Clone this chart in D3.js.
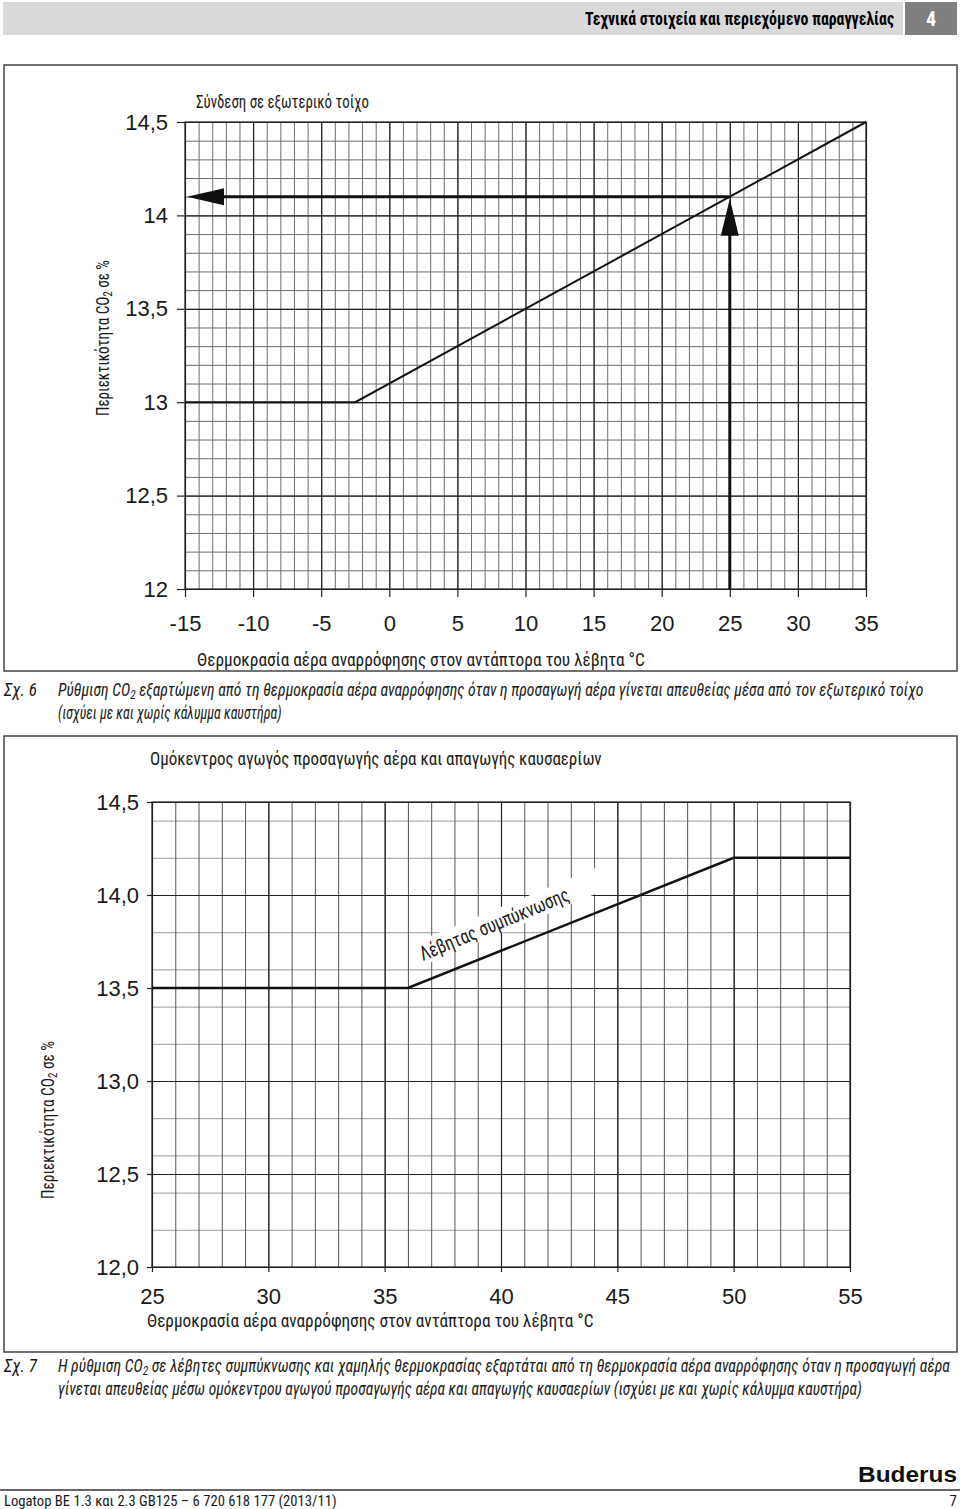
<!DOCTYPE html>
<html><head><meta charset="utf-8">
<script src="https://cdn.jsdelivr.net/npm/d3@7"></script>
<style>
html,body{margin:0;padding:0;background:#fff;}
svg{display:block;}
</style></head>
<body>
<script>
// ---------- data ----------
const xTicks1 = [-15,-10,-5,0,5,10,15,20,25,30,35];
const yTicks1 = [12,12.5,13,13.5,14,14.5];
const yLabels1 = ["12","12,5","13","13,5","14","14,5"];
const curve1Temp = [-15,-2.5,35];
const curve1CO2 = [13,13,14.5];
const readTemp1 = 25;
const readCO2_1 = 14.1;

const xTicks2 = [25,30,35,40,45,50,55];
const yTicks2 = [12,12.5,13,13.5,14,14.5];
const yLabels2 = ["12,0","12,5","13,0","13,5","14,0","14,5"];
const curve2Temp = [25,36,50,55];
const curve2CO2 = [13.5,13.5,14.2,14.2];
const curve2Label = "Λέβητας συμπύκνωσης";

const NARROW = "'Liberation Sans Narrow','Roboto Condensed','DejaVu Sans Condensed','Liberation Sans',sans-serif";
const SANS = "'Liberation Sans',Arial,sans-serif";

const svg = d3.select("body").append("svg").attr("width",960).attr("height",1509);

// text placed at (x,y); optional rotation; width forced to opt.len via a horizontal scale
function txt(g, x, y, s, opt={}) {
  const t = g.append("text").attr("x",0).attr("y",0)
    .attr("font-family", opt.family||NARROW)
    .attr("font-size", opt.size||16)
    .attr("fill", opt.fill||"#1a1a1a");
  if (opt.weight) t.attr("font-weight", opt.weight);
  if (opt.italic) t.attr("font-style","italic");
  if (opt.anchor) t.attr("text-anchor", opt.anchor);
  if (Array.isArray(s)) {
    s.forEach(p => {
      const ts = t.append("tspan").text(p.t);
      if (p.sub) ts.attr("font-size", (opt.size||16)*0.72).attr("dy", 3);
      if (p.back) ts.attr("dy", -3);
    });
  } else t.text(s);
  let tr = `translate(${x},${y})`;
  if (opt.rot) tr += ` rotate(${opt.rot})`;
  if (opt.len) {
    const w = t.node().getComputedTextLength();
    if (w > 0) tr += ` scale(${(opt.len / w).toFixed(4)},1)`;
  }
  t.attr("transform", tr);
  return t;
}

// ---------- header ----------
svg.append("rect").attr("x",3).attr("y",2).attr("width",900).attr("height",33).attr("fill","#d9d9d9");
svg.append("rect").attr("x",905).attr("y",2).attr("width",52).attr("height",33).attr("fill","#7f7f7f");
txt(svg, 894, 25, "Τεχνικά στοιχεία και περιεχόμενο παραγγελίας", {size:19, weight:"bold", anchor:"end", len:309, fill:"#000"});
txt(svg, 931, 26, "4", {size:20, weight:"bold", anchor:"middle", fill:"#fff"});

// ---------- generic grid chart ----------
function drawChart(cfg) {
  const g = svg.append("g");
  const x = d3.scaleLinear().domain(cfg.xDomain).range(cfg.xRange);
  const y = d3.scaleLinear().domain(cfg.yDomain).range(cfg.yRange);
  g.append("rect").attr("x",cfg.frame[0]).attr("y",cfg.frame[1]).attr("width",cfg.frame[2]).attr("height",cfg.frame[3])
    .attr("fill","none").attr("stroke","#444").attr("stroke-width",1.5);
  const H = cfg.yRange[0]-cfg.yRange[1], W = cfg.xRange[1]-cfg.xRange[0];
  g.append("g").attr("transform",`translate(${cfg.xRange[0]},0)`)
    .call(d3.axisLeft(y).tickValues(cfg.yMinor).tickSize(-W).tickFormat(""))
    .call(a=>{a.select(".domain").remove(); a.selectAll("line").attr("stroke",cfg.hMinorColor).attr("stroke-width",1);});
  g.append("g").attr("transform",`translate(0,${cfg.yRange[1]})`)
    .call(d3.axisTop(x).tickValues(cfg.xMinor).tickSize(-H).tickFormat(""))
    .call(a=>{a.select(".domain").remove(); a.selectAll("line").attr("stroke",cfg.vMinorColor).attr("stroke-width",1);});
  g.append("g").attr("transform",`translate(${cfg.xRange[0]},0)`)
    .call(d3.axisLeft(y).tickValues(cfg.yTicks).tickSizeInner(-W).tickSizeOuter(0).tickFormat(""))
    .call(a=>{a.select(".domain").remove(); a.selectAll("line").attr("stroke","#222").attr("stroke-width",1.2);});
  g.append("g").attr("transform",`translate(${cfg.xRange[0]},0)`)
    .call(d3.axisLeft(y).tickValues(cfg.yTicks).tickSize(cfg.tickLen).tickPadding(cfg.yPad).tickFormat((d,i)=>cfg.yLabels[i]))
    .call(a=>{a.select(".domain").remove(); a.selectAll("line").attr("stroke","#222").attr("stroke-width",1.2);
      a.selectAll("text").attr("font-family",SANS).attr("font-size",cfg.tickFont).attr("fill","#1a1a1a");});
  g.append("g").attr("transform",`translate(0,${cfg.yRange[0]})`)
    .call(d3.axisBottom(x).tickValues(cfg.xTicks).tickSizeInner(-H).tickSizeOuter(0).tickFormat(""))
    .call(a=>{a.select(".domain").remove(); a.selectAll("line").attr("stroke","#222").attr("stroke-width",1.2);});
  g.append("g").attr("transform",`translate(0,${cfg.yRange[0]})`)
    .call(d3.axisBottom(x).tickValues(cfg.xTicks).tickSize(cfg.tickLen).tickPadding(cfg.xPad).tickFormat(d=>String(d).replace("−","-")))
    .call(a=>{a.select(".domain").remove(); a.selectAll("line").attr("stroke","#222").attr("stroke-width",1.2);
      a.selectAll("text").attr("font-family",SANS).attr("font-size",cfg.tickFont).attr("fill","#1a1a1a");});
  g.append("rect").attr("x",cfg.xRange[0]).attr("y",cfg.yRange[1]).attr("width",W).attr("height",H)
    .attr("fill","none").attr("stroke","#222").attr("stroke-width",1.2);
  return {g,x,y};
}

// ---------- chart 1 ----------
{
  const c = drawChart({
    frame:[4,65,953,606],
    xDomain:[-15,35], xRange:[185,866],
    yDomain:[12,14.5], yRange:[589,122],
    xTicks:xTicks1, yTicks:yTicks1, yLabels:yLabels1,
    xMinor:d3.range(-15,36,1), yMinor:d3.range(0,26).map(i=>12+i*0.1),
    hMinorColor:"#6e6e6e", vMinorColor:"#6e6e6e",
    tickLen:8, xPad:18, yPad:9, tickFont:22
  });
  const {g,x,y} = c;
  const pts = curve1Temp.map((t,i)=>[t,curve1CO2[i]]);
  g.append("path").attr("d", d3.line().x(d=>x(d[0])).y(d=>y(d[1]))(pts))
    .attr("fill","none").attr("stroke","#111").attr("stroke-width",2);
  const ax = x(readTemp1), ay = y(readCO2_1);
  g.append("line").attr("x1",ax).attr("x2",ax).attr("y1",y(12)).attr("y2",ay+30)
    .attr("stroke","#111").attr("stroke-width",3);
  g.append("path").attr("d",`M${ax},${ay+2}L${ax-9},${ay+39}L${ax+9},${ay+39}Z`).attr("fill","#111");
  const lx = x(-15);
  g.append("line").attr("x1",ax).attr("x2",lx+30).attr("y1",ay).attr("y2",ay)
    .attr("stroke","#111").attr("stroke-width",3);
  g.append("path").attr("d",`M${lx+2},${ay}L${lx+39},${ay-8.5}L${lx+39},${ay+8.5}Z`).attr("fill","#111");
  txt(svg, 196, 108, "Σύνδεση σε εξωτερικό τοίχο", {size:19, len:173});
  txt(svg, 197, 666, "Θερμοκρασία αέρα αναρρόφησης στον αντάπτορα του λέβητα °C", {size:19, len:448});
  txt(svg, 109, 338, [{t:"Περιεκτικότητα CO"},{t:"2",sub:true},{t:" σε %",back:true}], {size:18, anchor:"middle", len:156, rot:-90});
  txt(svg, 4, 696, "Σχ. 6", {size:18, italic:true, len:33});
  txt(svg, 58, 696, [{t:"Ρύθμιση CO"},{t:"2",sub:true},{t:" εξαρτώμενη από τη θερμοκρασία αέρα αναρρόφησης όταν η προσαγωγή αέρα γίνεται απευθείας μέσα από τον εξωτερικό τοίχο",back:true}], {size:18, italic:true, len:866});
  txt(svg, 58, 719, "(ισχύει με και χωρίς κάλυμμα καυστήρα)", {size:18, italic:true, len:224});
}

// ---------- chart 2 ----------
{
  const c = drawChart({
    frame:[4,736,953,616],
    xDomain:[25,55], xRange:[152,850],
    yDomain:[12,14.5], yRange:[1267,802],
    xTicks:xTicks2, yTicks:yTicks2, yLabels:yLabels2,
    xMinor:d3.range(25,56,1), yMinor:[12.2,12.4,12.6,12.8,13.2,13.4,13.6,13.8,14.2,14.4],
    hMinorColor:"#9a9a9a", vMinorColor:"#555",
    tickLen:5, xPad:16, yPad:8, tickFont:22
  });
  const {g,x,y} = c;
  const lx = 423, ly = 961, ang = -22.5;
  const lg = g.append("g").attr("transform",`translate(${lx},${ly}) rotate(${ang})`);
  lg.append("rect").attr("x",-4).attr("y",-20).attr("width",200).attr("height",24).attr("fill","#fff");
  txt(lg, 0, 0, curve2Label, {size:20, len:160});
  const pts = curve2Temp.map((t,i)=>[t,curve2CO2[i]]);
  g.append("path").attr("d", d3.line().x(d=>x(d[0])).y(d=>y(d[1]))(pts))
    .attr("fill","none").attr("stroke","#111").attr("stroke-width",2.5);
  txt(svg, 150, 765, "Ομόκεντρος αγωγός προσαγωγής αέρα και απαγωγής καυσαερίων", {size:19, len:452});
  txt(svg, 147, 1327, "Θερμοκρασία αέρα αναρρόφησης στον αντάπτορα του λέβητα °C", {size:19, len:447});
  txt(svg, 54, 1120, [{t:"Περιεκτικότητα CO"},{t:"2",sub:true},{t:" σε %",back:true}], {size:18, anchor:"middle", len:158, rot:-90});
  txt(svg, 4, 1372, "Σχ. 7", {size:18, italic:true, len:33});
  txt(svg, 58, 1372, [{t:"Η ρύθμιση CO"},{t:"2",sub:true},{t:" σε λέβητες συμπύκνωσης και χαμηλής θερμοκρασίας εξαρτάται από τη θερμοκρασία αέρα αναρρόφησης όταν η προσαγωγή αέρα",back:true}], {size:18, italic:true, len:892});
  txt(svg, 58, 1395, "γίνεται απευθείας μέσω ομόκεντρου αγωγού προσαγωγής αέρα και απαγωγής καυσαερίων (ισχύει με και χωρίς κάλυμμα καυστήρα)", {size:18, italic:true, len:804});
}

// ---------- footer ----------
txt(svg, 957, 1482, "Buderus", {family:SANS, size:22, weight:"bold", anchor:"end", len:99, fill:"#111"});
svg.append("line").attr("x1",0).attr("x2",960).attr("y1",1490).attr("y2",1490).attr("stroke","#666").attr("stroke-width",2);
txt(svg, 4, 1506, "Logatop BE 1.3 και 2.3 GB125 – 6 720 618 177 (2013/11)", {size:15, len:333});
txt(svg, 957, 1506, "7", {size:15, anchor:"end"});
</script>
</body></html>
